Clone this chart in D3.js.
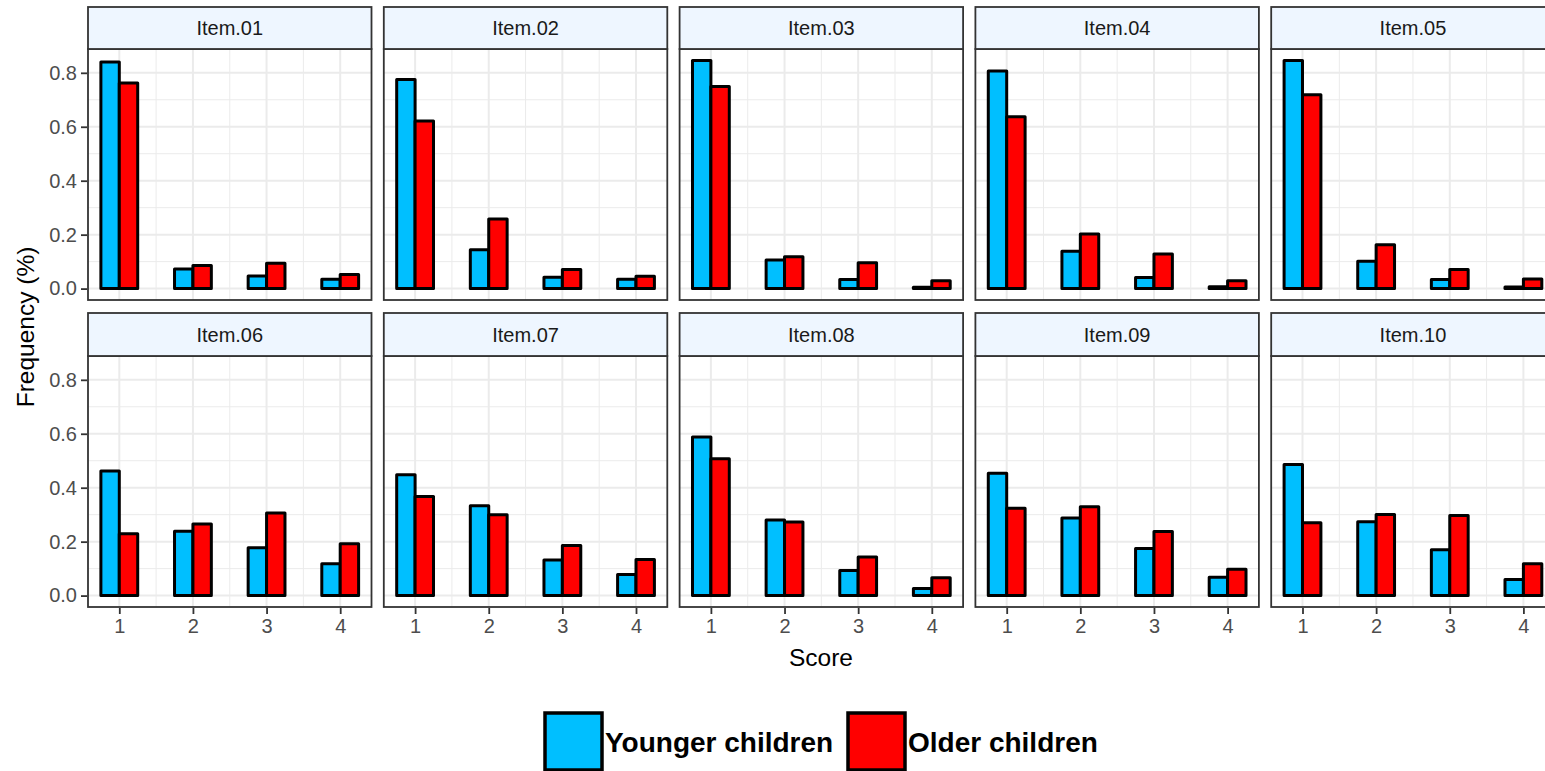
<!DOCTYPE html>
<html>
<head>
<meta charset="utf-8">
<script src="https://cdn.jsdelivr.net/npm/d3@7"></script>
<style>
  html, body { margin: 0; padding: 0; background: #fff; overflow: hidden; }
  svg { display: block; font-family: "Liberation Sans", Arial, sans-serif; }
</style>
</head>
<body>
<svg id="chart" width="1545" height="771"></svg>
<script>
// ---- data ----
const items = ["Item.01","Item.02","Item.03","Item.04","Item.05","Item.06","Item.07","Item.08","Item.09","Item.10"];
const scores = [1, 2, 3, 4];
const groups = ["Younger children", "Older children"];
const younger = [
  [0.840, 0.073, 0.047, 0.035],
  [0.775, 0.144, 0.042, 0.035],
  [0.846, 0.106, 0.034, 0.005],
  [0.807, 0.138, 0.041, 0.007],
  [0.846, 0.101, 0.034, 0.006],
  [0.462, 0.239, 0.177, 0.118],
  [0.448, 0.333, 0.132, 0.078],
  [0.588, 0.280, 0.093, 0.026],
  [0.454, 0.288, 0.175, 0.068],
  [0.486, 0.274, 0.170, 0.060]
];
const older = [
  [0.762, 0.086, 0.094, 0.052],
  [0.621, 0.258, 0.071, 0.046],
  [0.749, 0.118, 0.096, 0.029],
  [0.637, 0.202, 0.128, 0.029],
  [0.719, 0.163, 0.071, 0.036],
  [0.229, 0.265, 0.306, 0.192],
  [0.367, 0.300, 0.186, 0.134],
  [0.507, 0.273, 0.143, 0.066],
  [0.324, 0.329, 0.238, 0.098],
  [0.270, 0.301, 0.297, 0.118]
];
const yTicks = [0, 0.2, 0.4, 0.6, 0.8];
const yMinor = [0.1, 0.3, 0.5, 0.7];
const xMinor = [1.5, 2.5, 3.5];
const colors = ["#00BFFF", "#FF0000"];

// ---- layout ----
const svg = d3.select("#chart");
const plotLeft = 88, panelW = 283.5, colStep = 295.8;
const rows = [
  { stripTop: 7, panelTop: 49, panelBottom: 300 },
  { stripTop: 313, panelTop: 356, panelBottom: 607 }
];
const barW = 0.25;

const allVals = younger.flat().concat(older.flat());
const yMax = d3.max(allVals);
const yPad = 0.05 * yMax;
const xLo = 1 - 0.125 - barW / 2, xHi = 4 + 0.125 + barW / 2;
const xPad = 0.05 * (xHi - xLo);

items.forEach((item, i) => {
  const r = Math.floor(i / 5), c = i % 5;
  const row = rows[r];
  const x0 = plotLeft + c * colStep;
  const x = d3.scaleLinear().domain([xLo - xPad, xHi + xPad]).range([x0, x0 + panelW]);
  const y = d3.scaleLinear().domain([-yPad, yMax + yPad]).range([row.panelBottom, row.panelTop]);
  const g = svg.append("g");

  g.append("rect").attr("x", x0).attr("y", row.panelTop).attr("width", panelW)
    .attr("height", row.panelBottom - row.panelTop).attr("fill", "#fff");

  // minor gridlines
  g.selectAll(".ymin").data(yMinor).join("line")
    .attr("x1", x0).attr("x2", x0 + panelW).attr("y1", d => y(d)).attr("y2", d => y(d))
    .attr("stroke", "#EBEBEB").attr("stroke-width", 1);
  g.selectAll(".xmin").data(xMinor).join("line")
    .attr("y1", row.panelTop).attr("y2", row.panelBottom).attr("x1", d => x(d)).attr("x2", d => x(d))
    .attr("stroke", "#EBEBEB").attr("stroke-width", 1);
  // major gridlines
  g.selectAll(".ymaj").data(yTicks).join("line")
    .attr("x1", x0).attr("x2", x0 + panelW).attr("y1", d => y(d)).attr("y2", d => y(d))
    .attr("stroke", "#EBEBEB").attr("stroke-width", 2);
  g.selectAll(".xmaj").data(scores).join("line")
    .attr("y1", row.panelTop).attr("y2", row.panelBottom).attr("x1", d => x(d)).attr("x2", d => x(d))
    .attr("stroke", "#EBEBEB").attr("stroke-width", 2);

  // bars
  const bars = [];
  scores.forEach((s, k) => {
    bars.push({ s, v: younger[i][k], gi: 0 });
    bars.push({ s, v: older[i][k], gi: 1 });
  });
  g.selectAll(".bar").data(bars).join("rect")
    .attr("x", d => x(d.s + (d.gi === 0 ? -barW : 0)))
    .attr("width", d => x(barW) - x(0))
    .attr("y", d => y(d.v))
    .attr("height", d => y(0) - y(d.v))
    .attr("fill", d => colors[d.gi])
    .attr("stroke", "#000").attr("stroke-width", 3).attr("stroke-linejoin", "round");

  // panel border
  g.append("rect").attr("x", x0).attr("y", row.panelTop).attr("width", panelW)
    .attr("height", row.panelBottom - row.panelTop).attr("fill", "none")
    .attr("stroke", "#333333").attr("stroke-width", 1.8);

  // strip
  g.append("rect").attr("x", x0).attr("y", row.stripTop).attr("width", panelW)
    .attr("height", row.panelTop - row.stripTop).attr("fill", "#EEF6FF")
    .attr("stroke", "#333333").attr("stroke-width", 1.8);
  g.append("text").attr("x", x0 + panelW / 2).attr("y", (row.stripTop + row.panelTop) / 2)
    .attr("text-anchor", "middle").attr("dominant-baseline", "central")
    .attr("font-size", 20).attr("fill", "#1A1A1A").text(item);

  if (c === 0) {
    const ya = d3.axisLeft(y).tickValues(yTicks).tickFormat(d3.format(".1f")).tickSize(6).tickPadding(4);
    const ag = g.append("g").attr("transform", `translate(${x0 - 1},0)`).call(ya);
    ag.select(".domain").remove();
    ag.selectAll(".tick line").attr("stroke", "#333333").attr("stroke-width", 1.8);
    ag.selectAll(".tick text").attr("font-size", 20).attr("fill", "#4D4D4D")
      .attr("font-family", "Liberation Sans, Arial, sans-serif");
  }
  if (r === 1) {
    const xa = d3.axisBottom(x).tickValues(scores).tickFormat(d3.format("d")).tickSize(6).tickPadding(5);
    const ag = g.append("g").attr("transform", `translate(0,${row.panelBottom + 1})`).call(xa);
    ag.select(".domain").remove();
    ag.selectAll(".tick line").attr("stroke", "#333333").attr("stroke-width", 1.8);
    ag.selectAll(".tick text").attr("font-size", 20).attr("fill", "#4D4D4D")
      .attr("font-family", "Liberation Sans, Arial, sans-serif");
  }
});

// axis titles
svg.append("text").attr("x", 821).attr("y", 666).attr("text-anchor", "middle")
  .attr("font-size", 24.5).attr("fill", "#000").text("Score");
svg.append("text").attr("transform", "translate(34,327) rotate(-90)").attr("text-anchor", "middle")
  .attr("font-size", 24.5).attr("fill", "#000").text("Frequency (%)");

// legend
const legendX = [545, 848];
const keySize = 57;
groups.forEach((name, gi) => {
  const lg = svg.append("g").attr("transform", `translate(${legendX[gi]},713)`);
  lg.append("rect").attr("x", 0).attr("y", 0).attr("width", keySize).attr("height", keySize)
    .attr("fill", colors[gi]).attr("stroke", "#000").attr("stroke-width", 3.5);
  lg.append("text").attr("x", keySize + 3).attr("y", 39).attr("font-size", 28)
    .attr("font-weight", "bold").attr("fill", "#000").text(name);
});
</script>
</body>
</html>
